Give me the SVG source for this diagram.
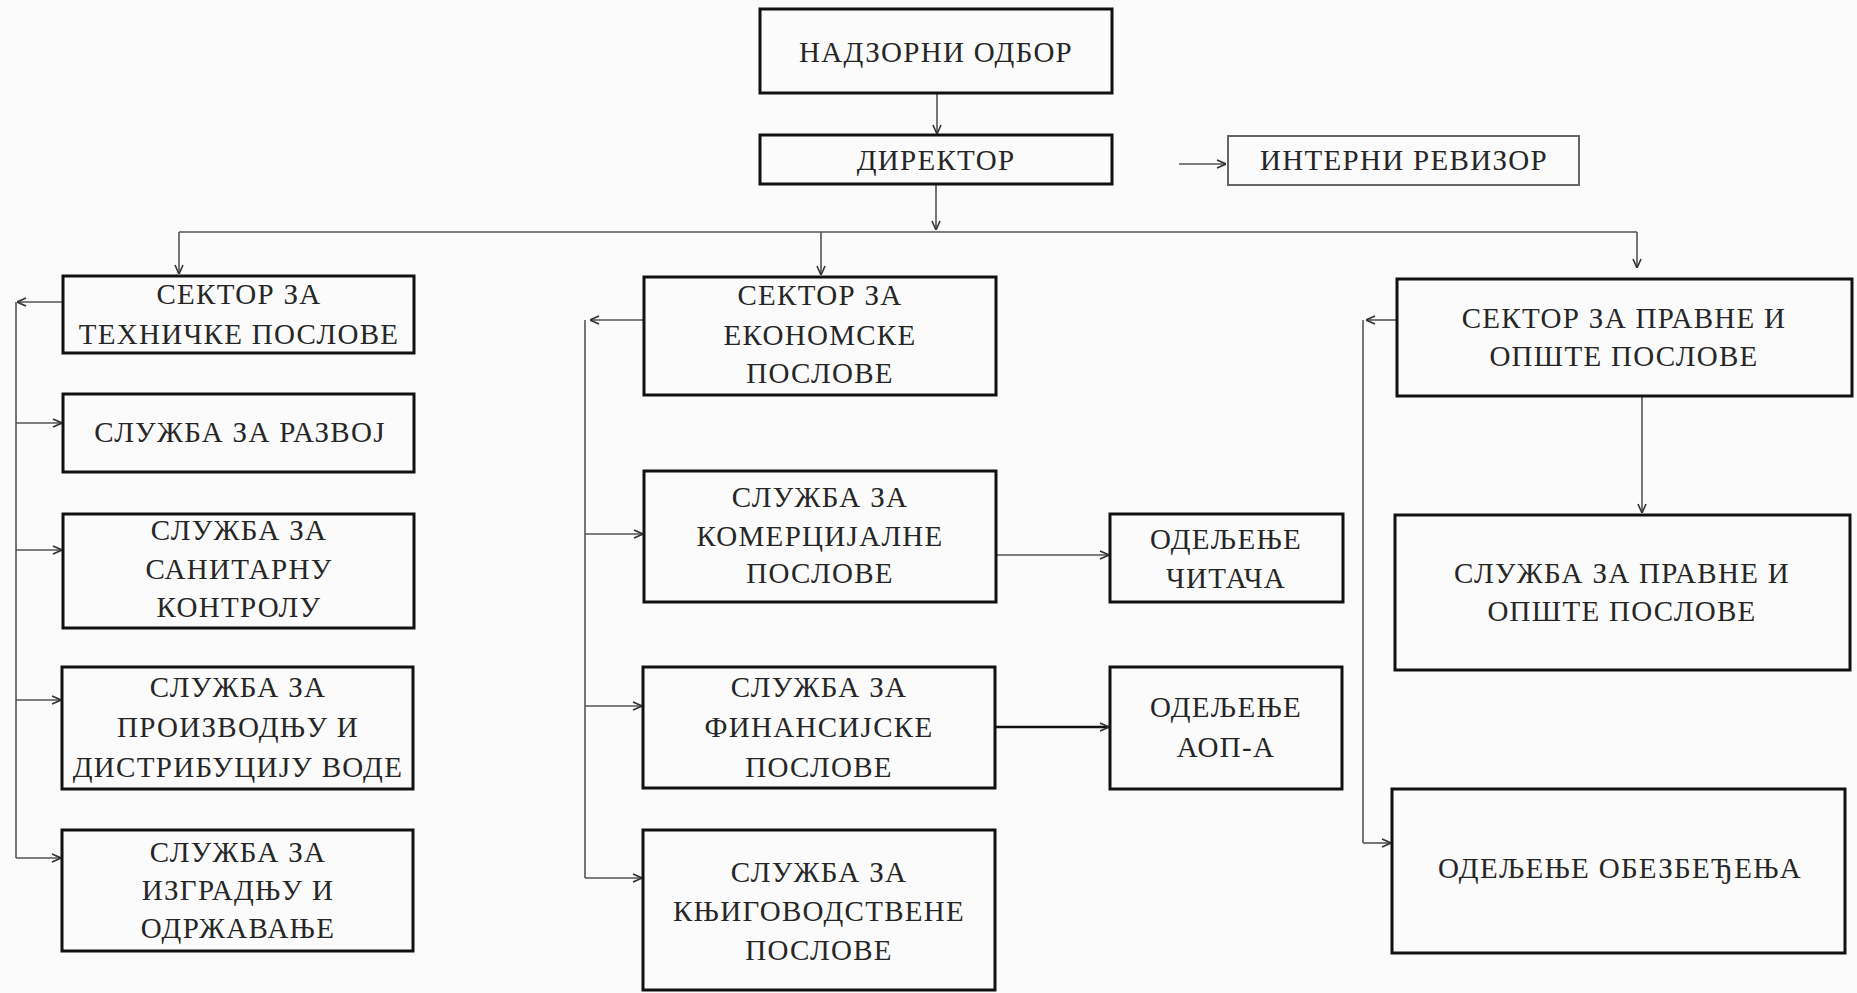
<svg xmlns="http://www.w3.org/2000/svg" width="1857" height="993" viewBox="0 0 1857 993">
<style>
.box{fill:none;stroke:#111;stroke-width:3}
.thin{fill:none;stroke:#666;stroke-width:2}
.t{font-family:"Liberation Serif","Times New Roman",serif;font-size:29px;letter-spacing:1.3px;fill:#262626;text-anchor:middle}
.c{fill:none;stroke:#555;stroke-width:1.6}
.cb{fill:none;stroke:#111;stroke-width:2.5}
</style>
<defs>
<marker id="a" viewBox="0 0 10 10" refX="10" refY="5" markerWidth="10" markerHeight="10" markerUnits="userSpaceOnUse" orient="auto">
<path d="M1,1 L10,5 L1,9" fill="none" stroke="#333" stroke-width="1.6"/>
</marker>
</defs>
<rect width="1857" height="993" fill="#fbfbfb"/>
<g id="connectors">
<line class="c" x1="937" y1="93" x2="937" y2="134" marker-end="url(#a)"/>
<line class="c" x1="936" y1="184" x2="936" y2="230" marker-end="url(#a)"/>
<line class="c" x1="1179" y1="164" x2="1226" y2="164" marker-end="url(#a)"/>
<line class="c" x1="179" y1="232" x2="1637" y2="232"/>
<line class="c" x1="179" y1="232" x2="179" y2="274" marker-end="url(#a)"/>
<line class="c" x1="821" y1="232" x2="821" y2="275" marker-end="url(#a)"/>
<line class="c" x1="1637" y1="232" x2="1637" y2="268" marker-end="url(#a)"/>
<line class="c" x1="63" y1="302" x2="17" y2="302" marker-end="url(#a)"/>
<path class="c" d="M16,302 V858"/>
<line class="c" x1="16" y1="423" x2="62" y2="423" marker-end="url(#a)"/>
<line class="c" x1="16" y1="550" x2="62" y2="550" marker-end="url(#a)"/>
<line class="c" x1="16" y1="700" x2="61" y2="700" marker-end="url(#a)"/>
<line class="c" x1="16" y1="858" x2="61" y2="858" marker-end="url(#a)"/>
<line class="c" x1="644" y1="320" x2="590" y2="320" marker-end="url(#a)"/>
<path class="c" d="M585,320 V878"/>
<line class="c" x1="585" y1="534" x2="643" y2="534" marker-end="url(#a)"/>
<line class="c" x1="585" y1="706" x2="642" y2="706" marker-end="url(#a)"/>
<line class="c" x1="585" y1="878" x2="642" y2="878" marker-end="url(#a)"/>
<line class="c" x1="996" y1="555" x2="1109" y2="555" marker-end="url(#a)"/>
<line class="cb" x1="995" y1="727" x2="1109" y2="727" marker-end="url(#a)"/>
<line class="c" x1="1397" y1="320" x2="1366" y2="320" marker-end="url(#a)"/>
<path class="c" d="M1363,320 V843"/>
<line class="c" x1="1363" y1="843" x2="1391" y2="843" marker-end="url(#a)"/>
<line class="c" x1="1642" y1="396" x2="1642" y2="513" marker-end="url(#a)"/>
</g>
<g id="nadzorni"><rect class="box" x="760" y="9" width="352" height="84"/><text class="t" x="936" y="62">НАДЗОРНИ ОДБОР</text></g>
<g id="direktor"><rect class="box" x="760" y="135" width="352" height="49"/><text class="t" x="936" y="170">ДИРЕКТОР</text></g>
<g id="interni"><rect class="thin" x="1228" y="136" width="351" height="49"/><text class="t" x="1404" y="170">ИНТЕРНИ РЕВИЗОР</text></g>
<g id="tehnicki"><rect class="box" x="63" y="276" width="351" height="77"/><text class="t" x="239" y="304">СЕКТОР ЗА</text><text class="t" x="239" y="344">ТЕХНИЧКЕ ПОСЛОВЕ</text></g>
<g id="razvoj"><rect class="box" x="63" y="394" width="351" height="78"/><text class="t" x="240" y="442">СЛУЖБА ЗА РАЗВОЈ</text></g>
<g id="sanitarna"><rect class="box" x="63" y="514" width="351" height="114"/><text class="t" x="239" y="540">СЛУЖБА ЗА</text><text class="t" x="239" y="579">САНИТАРНУ</text><text class="t" x="239" y="617">КОНТРОЛУ</text></g>
<g id="proizvodnja"><rect class="box" x="62" y="667" width="351" height="122"/><text class="t" x="238" y="697">СЛУЖБА ЗА</text><text class="t" x="238" y="737">ПРОИЗВОДЊУ И</text><text class="t" x="238" y="777">ДИСТРИБУЦИЈУ ВОДЕ</text></g>
<g id="izgradnja"><rect class="box" x="62" y="830" width="351" height="121"/><text class="t" x="238" y="862">СЛУЖБА ЗА</text><text class="t" x="238" y="900">ИЗГРАДЊУ И</text><text class="t" x="238" y="938">ОДРЖАВАЊЕ</text></g>
<g id="ekonomski"><rect class="box" x="644" y="277" width="352" height="118"/><text class="t" x="820" y="305">СЕКТОР ЗА</text><text class="t" x="820" y="345">ЕКОНОМСКЕ</text><text class="t" x="820" y="383">ПОСЛОВЕ</text></g>
<g id="komercijalne"><rect class="box" x="644" y="471" width="352" height="131"/><text class="t" x="820" y="507">СЛУЖБА ЗА</text><text class="t" x="820" y="546">КОМЕРЦИЈАЛНЕ</text><text class="t" x="820" y="583">ПОСЛОВЕ</text></g>
<g id="citaci"><rect class="box" x="1110" y="514" width="233" height="88"/><text class="t" x="1226" y="549">ОДЕЉЕЊЕ</text><text class="t" x="1226" y="588">ЧИТАЧА</text></g>
<g id="finansijske"><rect class="box" x="643" y="667" width="352" height="121"/><text class="t" x="819" y="697">СЛУЖБА ЗА</text><text class="t" x="819" y="737">ФИНАНСИЈСКЕ</text><text class="t" x="819" y="777">ПОСЛОВЕ</text></g>
<g id="aop"><rect class="box" x="1110" y="667" width="232" height="122"/><text class="t" x="1226" y="717">ОДЕЉЕЊЕ</text><text class="t" x="1226" y="757">АОП-А</text></g>
<g id="knjigovodstvene"><rect class="box" x="643" y="830" width="352" height="160"/><text class="t" x="819" y="882">СЛУЖБА ЗА</text><text class="t" x="819" y="921">КЊИГОВОДСТВЕНЕ</text><text class="t" x="819" y="960">ПОСЛОВЕ</text></g>
<g id="pravni-sektor"><rect class="box" x="1397" y="279" width="455" height="117"/><text class="t" x="1624" y="328">СЕКТОР ЗА ПРАВНЕ И</text><text class="t" x="1624" y="366">ОПШТЕ ПОСЛОВЕ</text></g>
<g id="pravna-sluzba"><rect class="box" x="1395" y="515" width="455" height="155"/><text class="t" x="1622" y="583">СЛУЖБА ЗА ПРАВНЕ И</text><text class="t" x="1622" y="621">ОПШТЕ ПОСЛОВЕ</text></g>
<g id="obezbedjenje"><rect class="box" x="1392" y="789" width="453" height="164"/><text class="t" x="1620" y="878">ОДЕЉЕЊЕ ОБЕЗБЕЂЕЊА</text></g>
</svg>
